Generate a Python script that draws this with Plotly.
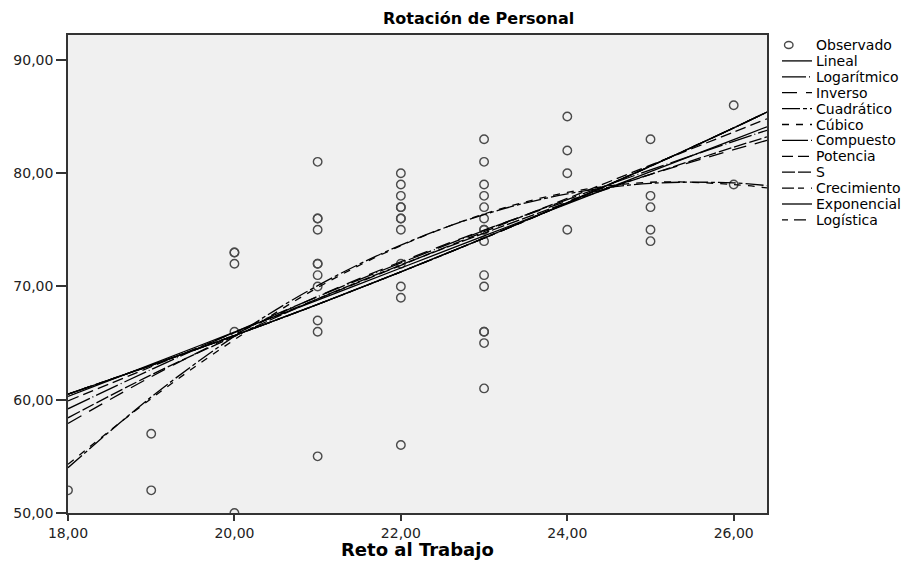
import plotly.graph_objects as go

# Observed data (Reto al Trabajo vs Rotación de Personal)
obs_x = ([18] + [19]*2 + [20]*5 + [21]*11 + [22]*12 + [23]*15 + [24]*4 + [25]*5 + [26]*2)
obs_y = ([52] +
         [57, 52] +
         [73, 73, 72, 66, 50] +
         [81, 76, 76, 75, 72, 72, 71, 70, 67, 66, 55] +
         [80, 79, 78, 77, 77, 76, 76, 75, 72, 70, 69, 56] +
         [83, 81, 79, 78, 77, 76, 75, 75, 74, 71, 70, 66, 66, 65, 61] +
         [85, 82, 80, 75] +
         [83, 78, 77, 75, 74] +
         [86, 79])

# Fitted curves at these x positions
curve_x = [18, 19, 20, 21, 22, 23, 24, 25, 26, 26.4]
lineal      = [60.3, 63.13, 65.97, 68.80, 71.63, 74.47, 77.30, 80.13, 82.97, 84.10]
logaritmico = [59.2, 62.67, 65.96, 69.10, 72.08, 74.94, 77.67, 80.29, 82.81, 83.79]
inverso     = [57.9, 62.03, 65.76, 69.12, 72.18, 74.98, 77.54, 79.90, 82.07, 82.90]
cuadratico  = [54.0, 60.24, 65.60, 70.07, 73.65, 76.35, 78.17, 79.10, 79.14, 78.90]
cubico      = [54.3, 60.10, 65.30, 69.90, 73.60, 76.40, 78.30, 79.20, 79.00, 78.70]
compuesto   = [60.5, 63.04, 65.67, 68.42, 71.29, 74.27, 77.38, 80.62, 84.00, 85.40]
potencia    = [59.9, 62.91, 65.92, 68.90, 71.87, 74.83, 77.77, 80.71, 83.63, 84.80]
s_curve     = [58.4, 62.20, 65.60, 68.90, 71.90, 74.70, 77.40, 79.90, 82.30, 83.20]
crecimiento = [60.5, 63.04, 65.67, 68.42, 71.29, 74.27, 77.38, 80.62, 84.00, 85.40]
exponencial = [60.5, 63.04, 65.67, 68.42, 71.29, 74.27, 77.38, 80.62, 84.00, 85.40]
logistica   = [60.5, 63.04, 65.67, 68.42, 71.29, 74.27, 77.38, 80.62, 84.00, 85.40]

x_ticks = [18, 20, 22, 24, 26]
y_ticks = [50, 60, 70, 80, 90]

FONT = "DejaVu Sans, Verdana, sans-serif"
OFF = 8                                  # page body margin
L, R, T, B = 68 - OFF, 767 - OFF, 35 - OFF, 513 - OFF   # plot area in figure pixels
W, H = 912 - OFF, 565 - OFF

def px_x(p):
    # p given in screenshot pixels
    return (p - OFF - L) / (R - L)

def px_y(p):
    return (B - (p - OFF)) / (B - T)

fig = go.Figure()
fig.add_trace(go.Scatter(x=obs_x, y=obs_y, mode="markers", name="Observado",
                         marker=dict(symbol="circle-open", size=8.5,
                                     line=dict(width=1.4, color="#4a4a4a"), color="#4a4a4a"),
                         cliponaxis=True, showlegend=False))

curves = [
    ("Lineal", lineal, "solid"),
    ("Logarítmico", logaritmico, "24px,3px,1px,3px"),
    ("Inverso", inverso, "15px,9px"),
    ("Cuadrático", cuadratico, "18px,3px,4px,3px"),
    ("Cúbico", cubico, "7px,7px"),
    ("Compuesto", compuesto, "26px,3px,1px,3px"),
    ("Potencia", potencia, "11px,5px"),
    ("S", s_curve, "13px,3px"),
    ("Crecimiento", crecimiento, "12px,4px,6px,7px"),
    ("Exponencial", exponencial, "solid"),
    ("Logística", logistica, "6px,6px,12px,6px"),
]
for name, vals, dash in curves:
    fig.add_trace(go.Scatter(x=curve_x, y=vals, mode="lines", name=name, showlegend=False,
                             line=dict(color="black", width=1.3, dash=dash, shape="spline")))

# Manual legend (to match the compact SPSS spacing)
shapes = []
annotations = []
leg_top = 45.0
leg_step = 15.9
names = ["Observado"] + [c[0] for c in curves]
for i, name in enumerate(names):
    cy = leg_top + i * leg_step
    if i == 0:
        shapes.append(dict(type="circle", xref="paper", yref="paper",
                           x0=px_x(784.5), x1=px_x(793), y0=px_y(cy + 3.5), y1=px_y(cy - 3.5),
                           line=dict(color="#4a4a4a", width=1.4)))
    else:
        shapes.append(dict(type="line", xref="paper", yref="paper",
                           x0=px_x(782), x1=px_x(812), y0=px_y(cy), y1=px_y(cy),
                           line=dict(color="black", width=1.3, dash=curves[i - 1][2])))
    annotations.append(dict(text=name, xref="paper", yref="paper",
                            x=px_x(814), y=px_y(cy), xanchor="left", yanchor="middle",
                            showarrow=False, font=dict(family=FONT, size=14, color="black")))

annotations.append(dict(text="<b>Rotación de Personal</b>", xref="paper", yref="paper",
                        x=px_x(478), y=px_y(19), xanchor="center", yanchor="middle",
                        showarrow=False, font=dict(family=FONT, size=16, color="black")))
annotations.append(dict(text="<b>Reto al Trabajo</b>", xref="paper", yref="paper",
                        x=px_x(417), y=px_y(549), xanchor="center", yanchor="middle",
                        showarrow=False, font=dict(family=FONT, size=18, color="black")))

axis_common = dict(showline=True, linecolor="#333333", linewidth=1.5, mirror=True,
                   tickcolor="#333333", tickwidth=1.5, ticks="outside",
                   showgrid=False, zeroline=False, tickformat=".2f", automargin=False,
                   tickfont=dict(family=FONT, size=14, color="#222"))

fig.update_layout(
    width=W, height=H,
    margin=dict(l=L, r=W - R, t=T, b=H - B),
    paper_bgcolor="white", plot_bgcolor="#F0F0F0",
    separators=",.",
    showlegend=False,
    font=dict(family=FONT, size=12, color="black"),
    xaxis=dict(range=[18, 26.4], tickvals=x_ticks, ticklen=6, **axis_common),
    yaxis=dict(range=[50, 92.2], tickvals=y_ticks, ticklen=10, **axis_common),
    shapes=shapes,
    annotations=annotations,
)

fig.write_html("out.html")
